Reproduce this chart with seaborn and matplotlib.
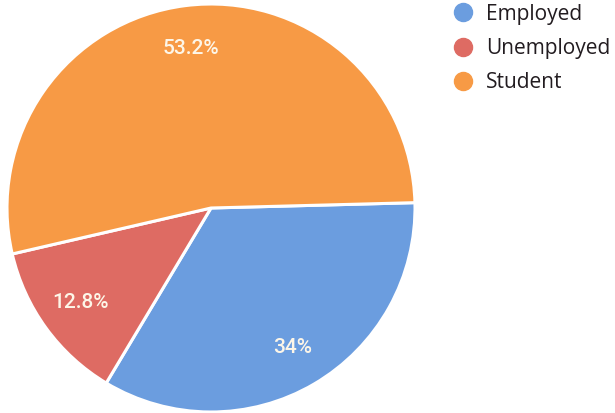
import matplotlib
matplotlib.use("Agg")
import matplotlib.pyplot as plt
from matplotlib.lines import Line2D
import seaborn as sns

categories = ["Employed", "Unemployed", "Student"]
shares = [34, 12.8, 53.2]
colors = ["#6b9ddf", "#de6b63", "#f79a45"]

sns.set_theme(style="white")
plt.rcParams["font.family"] = ["Open Sans", "DejaVu Sans"]
palette = sns.color_palette(colors)

fig = plt.figure(figsize=(6.15, 4.13), dpi=100)
fig.patch.set_facecolor("white")

W, H = 615, 413
cx, cy, r = 211, 208, 204
ax = fig.add_axes([(cx - r) / W, (H - cy - r) / H, 2 * r / W, 2 * r / H])

wedges, texts, autotexts = ax.pie(
    shares,
    colors=palette,
    startangle=1.5,
    counterclock=False,
    autopct=lambda p: "",
    pctdistance=0.79,
    wedgeprops=dict(edgecolor="white", linewidth=2.2),
)
for t, v in zip(autotexts, shares):
    t.set_text(f"{v:g}%")
    t.set_color("#fdf6e8")
    t.set_fontsize(15)
    t.set_fontweight("medium")
    t.set_fontfamily(["Roboto", "DejaVu Sans"])
ax.set_xlim(-1, 1)
ax.set_ylim(-1, 1)
ax.set_aspect("equal")
ax.axis("off")

handles = [
    Line2D([0], [0], marker="o", linestyle="none", markersize=13,
           markerfacecolor=c, markeredgecolor=c)
    for c in palette
]
fig.legend(
    handles, categories,
    loc="upper left",
    bbox_to_anchor=(430 / W, 1.0 + 15 / H),
    frameon=False,
    fontsize=15,
    handlelength=1.4,
    handletextpad=0.4,
    labelspacing=0.63,
    labelcolor="#221c20",
)

fig.savefig("out.png", dpi=100, facecolor="white")
